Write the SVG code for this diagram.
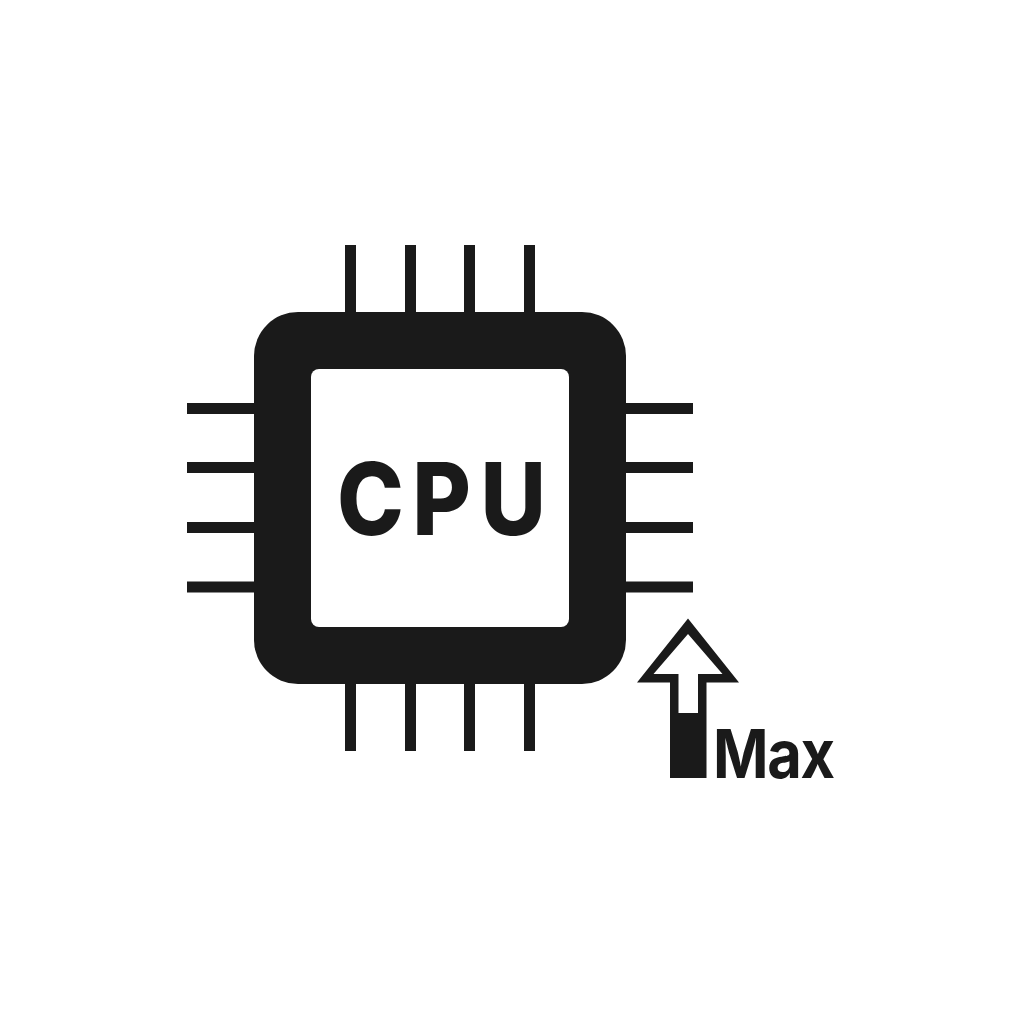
<svg xmlns="http://www.w3.org/2000/svg" width="1024" height="1024" viewBox="0 0 1024 1024">
<style>
.pin{fill:#1a1a1a}
.t{font-family:"Inter","Liberation Sans",sans-serif;fill:#1a1a1a}
</style>
<rect width="1024" height="1024" fill="#fff"/>
<g id="pins">
<rect class="pin" x="345" y="245" width="11" height="70"/><rect class="pin" x="405" y="245" width="11" height="70"/><rect class="pin" x="464" y="245" width="11" height="70"/><rect class="pin" x="524" y="245" width="11" height="70"/>
<rect class="pin" x="345" y="681" width="11" height="70"/><rect class="pin" x="405" y="681" width="11" height="70"/><rect class="pin" x="464" y="681" width="11" height="70"/><rect class="pin" x="524" y="681" width="11" height="70"/>
<rect class="pin" x="187" y="403" width="70" height="11"/><rect class="pin" x="187" y="462" width="70" height="11"/><rect class="pin" x="187" y="522" width="70" height="11"/><rect class="pin" x="187" y="581.5" width="70" height="11"/>
<rect class="pin" x="623" y="403" width="70" height="11"/><rect class="pin" x="623" y="462" width="70" height="11"/><rect class="pin" x="623" y="522" width="70" height="11"/><rect class="pin" x="623" y="581.5" width="70" height="11"/>
</g>
<g id="cpu">
<rect x="254" y="312" width="372" height="372" rx="44" fill="#1a1a1a"/>
<rect x="311" y="369" width="258" height="258" rx="8" fill="#fff"/>
<text class="t" transform="translate(0 534.5) scale(.9 1)" font-size="100" font-weight="800" x="374.5 458 534">CPU</text>
</g>
<g id="max">
<path d="M688 618.5L739 682.5H706.5V778H670V682.5H637Z" fill="#1a1a1a"/>
<path d="M688 634L722.5 674H698V713H678.5V674H653.5Z" fill="#fff"/>
<text class="t" transform="translate(713 778) scale(.89 1)" font-size="67" font-weight="700" letter-spacing="-1.5">Max</text>
</g>
</svg>
